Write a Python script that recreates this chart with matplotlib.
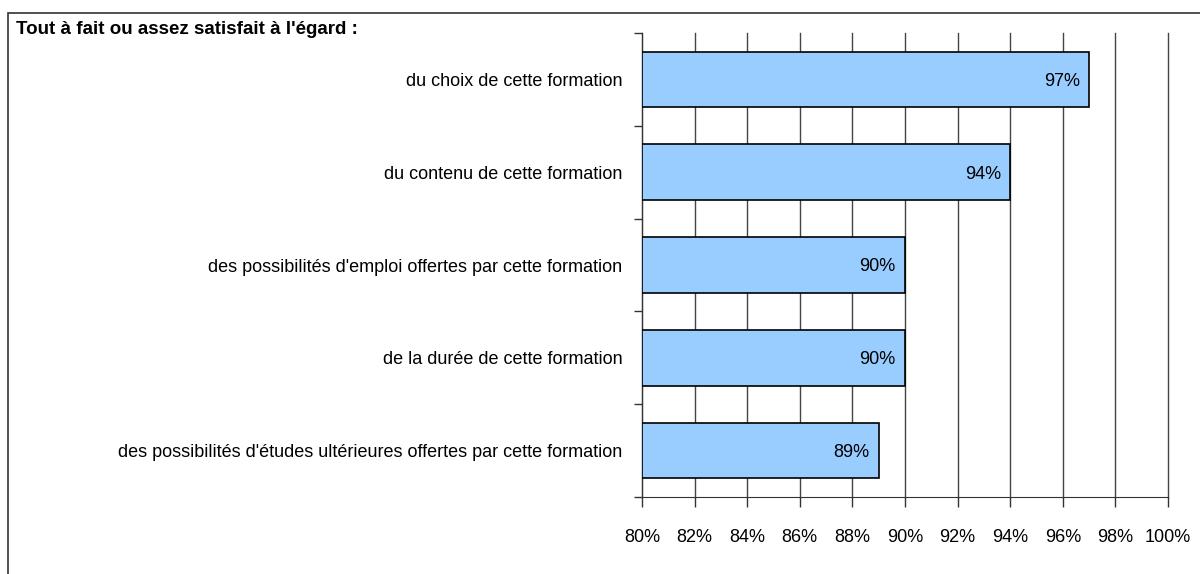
import matplotlib.pyplot as plt
from matplotlib.patches import Rectangle

plt.rcParams['font.family'] = ['Liberation Sans', 'DejaVu Sans']

categories = [
    "du choix de cette formation",
    "du contenu de cette formation",
    "des possibilités d'emploi offertes par cette formation",
    "de la durée de cette formation",
    "des possibilités d'études ultérieures offertes par cette formation",
]
values = [97, 94, 90, 90, 89]
xticks = list(range(80, 101, 2))
title = "Tout à fait ou assez satisfait à l'égard :"

fig = plt.figure(figsize=(12, 5.74), dpi=100)
ax = fig.add_axes([642 / 1200, 1 - 497 / 574, (1168 - 642) / 1200, (497 - 33) / 574])

# cadre autour de la figure
fig.patches.append(Rectangle((8 / 1200, -0.05), 1.2, 1 - 13 / 574 + 0.05,
                             transform=fig.transFigure, fill=False,
                             edgecolor='#333333', linewidth=1.2))

ypos = list(range(len(categories)))
ax.barh(ypos, [v - 80 for v in values], left=80, height=0.6,
        color='#99CCFF', edgecolor='black', linewidth=1.2, zorder=3)

for y, v in zip(ypos, values):
    ax.text(v - 0.35, y + 0.02, f"{v}%", ha='right', va='center', fontsize=13, zorder=4)

ax.set_xlim(80, 100)
ax.set_ylim(len(categories) - 0.5, -0.5)
ax.set_xticks(xticks)
ax.set_xticklabels([f"{t}%" for t in xticks], fontsize=13)
ax.set_yticks(ypos)
ax.set_yticklabels(categories, fontsize=13)
ax.tick_params(axis='y', length=0, pad=14)
ax.set_yticks([i - 0.5 for i in range(len(categories) + 1)], minor=True)
ax.tick_params(axis='y', which='minor', length=6, width=1, color='#333333')
ax.tick_params(axis='x', length=7, width=1, color='#333333', pad=16)

ax.grid(axis='x', color='#444444', linewidth=1, zorder=0)
for gl in ax.get_xgridlines():
    gl.set_clip_on(False)
for s in ['top', 'right']:
    ax.spines[s].set_visible(False)
ax.spines['left'].set_color('#333333')
ax.spines['bottom'].set_color('#333333')

fig.text(16 / 1200, 1 - 30 / 574, title, fontsize=13.5, fontweight='bold', va='center')

fig.savefig('out.png', dpi=100)
